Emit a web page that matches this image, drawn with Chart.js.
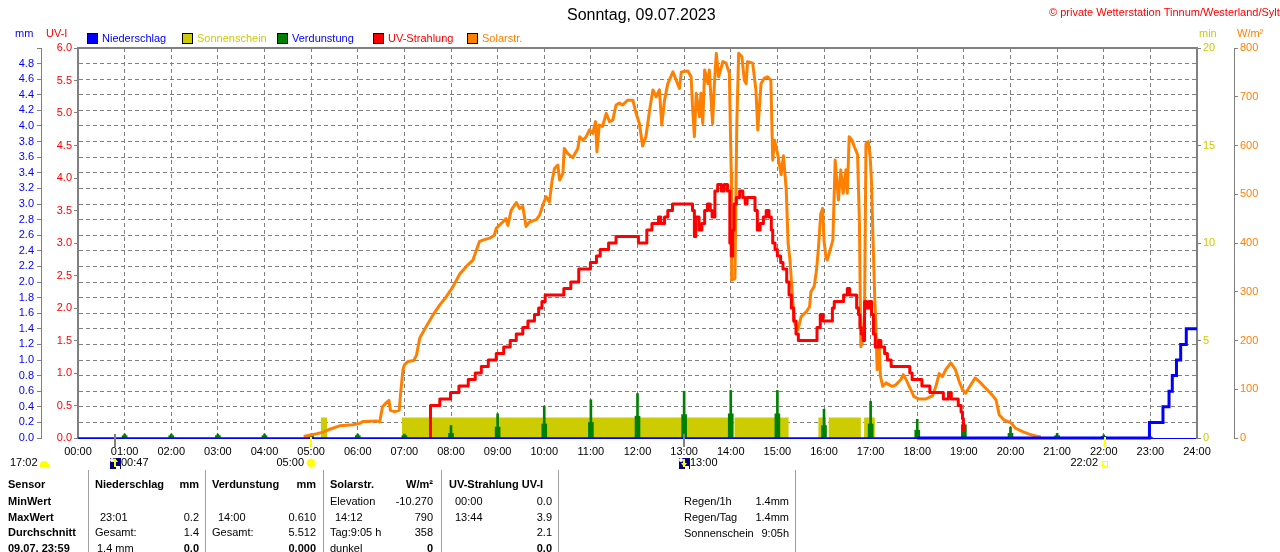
<!DOCTYPE html>
<html>
<head>
<meta charset="utf-8">
<script src="https://cdn.jsdelivr.net/npm/chart.js@4.4.0/dist/chart.umd.min.js"></script>
<style>
  body { margin: 0; background: #fff; width: 1280px; height: 552px; overflow: hidden; position: relative;
         font-family: 'Liberation Sans', Arial, sans-serif; font-size: 11px; }
  canvas { position: absolute; left: 0; top: 0; }
  .t { position: absolute; white-space: nowrap; line-height: 14px; }
  .r { text-align: right; }
  .b { font-weight: bold; }
  .box { position: absolute; width: 9px; height: 9px; border: 1px solid #000; }
  .vl { position: absolute; top: 470px; height: 82px; width: 1px; background: #a0a0a0; }
</style>
</head>
<body>
<canvas id="c" width="1280" height="552"></canvas>

<div class="t" style="left:567px;top:6px;font-size:16px;line-height:18px;">Sonntag, 09.07.2023</div>
<div class="t" style="left:1049px;top:5px;color:#ff0000;">© private Wetterstation Tinnum/Westerland/Sylt</div>
<div class="t" style="left:15px;top:26px;color:#0000ff;">mm</div>
<div class="t" style="left:46px;top:26px;color:#ff0000;">UV-I</div>
<div class="t" style="left:1199px;top:26px;color:#cccc00;">min</div>
<div class="t" style="left:1237px;top:26px;color:#ff8000;">W/m²</div>
<div id="legend"></div>

<div id="table">
  <div class="vl" style="left:88px"></div>
  <div class="vl" style="left:205px"></div>
  <div class="vl" style="left:323px"></div>
  <div class="vl" style="left:441px"></div>
  <div class="vl" style="left:558px"></div>
  <div class="vl" style="left:795px"></div>

  <div class="t b" style="left:8px;top:477px">Sensor</div>
  <div class="t b" style="left:8px;top:494px">MinWert</div>
  <div class="t b" style="left:8px;top:510px">MaxWert</div>
  <div class="t b" style="left:8px;top:525px">Durchschnitt</div>
  <div class="t b" style="left:8px;top:541px">09.07. 23:59</div>

  <div class="t b" style="left:95px;top:477px">Niederschlag</div>
  <div class="t b r" style="right:1081px;top:477px">mm</div>
  <div class="t" style="left:100px;top:510px">23:01</div>
  <div class="t r" style="right:1081px;top:510px">0.2</div>
  <div class="t" style="left:95px;top:525px">Gesamt:</div>
  <div class="t r" style="right:1081px;top:525px">1.4</div>
  <div class="t" style="left:97px;top:541px">1.4 mm</div>
  <div class="t b r" style="right:1081px;top:541px">0.0</div>

  <div class="t b" style="left:212px;top:477px">Verdunstung</div>
  <div class="t b r" style="right:964px;top:477px">mm</div>
  <div class="t" style="left:218px;top:510px">14:00</div>
  <div class="t r" style="right:964px;top:510px">0.610</div>
  <div class="t" style="left:212px;top:525px">Gesamt:</div>
  <div class="t r" style="right:964px;top:525px">5.512</div>
  <div class="t b r" style="right:964px;top:541px">0.000</div>

  <div class="t b" style="left:330px;top:477px">Solarstr.</div>
  <div class="t b r" style="right:847px;top:477px">W/m²</div>
  <div class="t" style="left:330px;top:494px">Elevation</div>
  <div class="t r" style="right:847px;top:494px">-10.270</div>
  <div class="t" style="left:335px;top:510px">14:12</div>
  <div class="t r" style="right:847px;top:510px">790</div>
  <div class="t" style="left:330px;top:525px">Tag:9:05 h</div>
  <div class="t r" style="right:847px;top:525px">358</div>
  <div class="t" style="left:330px;top:541px">dunkel</div>
  <div class="t b r" style="right:847px;top:541px">0</div>

  <div class="t b" style="left:449px;top:477px">UV-Strahlung UV-I</div>
  <div class="t" style="left:455px;top:494px">00:00</div>
  <div class="t r" style="right:728px;top:494px">0.0</div>
  <div class="t" style="left:455px;top:510px">13:44</div>
  <div class="t r" style="right:728px;top:510px">3.9</div>
  <div class="t r" style="right:728px;top:525px">2.1</div>
  <div class="t b r" style="right:728px;top:541px">0.0</div>

  <div class="t" style="left:684px;top:494px">Regen/1h</div>
  <div class="t r" style="right:491px;top:494px">1.4mm</div>
  <div class="t" style="left:684px;top:510px">Regen/Tag</div>
  <div class="t r" style="right:491px;top:510px">1.4mm</div>
  <div class="t" style="left:684px;top:526px">Sonnenschein</div>
  <div class="t r" style="right:491px;top:526px">9:05h</div>
</div>

<script>
const FONT = "'Liberation Sans', Arial, sans-serif";

// Niederschlag (mm, kumuliert)
const rainTimes  = [0, 18, 22.98, 23.27, 23.40, 23.47, 23.56, 23.65, 23.77, 24];
const rainValues = [0, 0, 0.2, 0.4, 0.6, 0.8, 1.0, 1.2, 1.4, 1.4];

// Sonnenschein (min) - Abschnitte mit Sonne
const sunStart = [5.21, 6.95, 14.08, 15.88, 16.10, 16.86];
const sunEnd   = [5.34, 14.04, 15.24, 16.04, 16.79, 17.09];
const sunMinutes = 1.05;

// Verdunstung (mm) - stuendlich
const evapHours = [1,2,3,4,5,6,7,8,9,10,11,12,13,14,15,16,17,18,19,20,21,22,23];
const evapPeak  = [0.05,0.05,0.05,0.05,0.05,0.05,0.05,0.16,0.31,0.41,0.49,0.57,0.60,0.61,0.61,0.37,0.47,0.24,0.19,0.14,0.06,0.04,0.02];
const evapBase  = [0.03,0.03,0.03,0.03,0.03,0.03,0.03,0.06,0.14,0.18,0.20,0.28,0.30,0.31,0.31,0.16,0.18,0.10,0.17,0.06,0.03,0.02,0.01];

// UV-Strahlung (UV-I)
const uvTimes = [7.53,7.56,7.76,7.99,8.17,8.37,8.52,8.65,8.80,8.97,9.13,9.27,9.40,9.54,9.65,9.79,9.88,9.95,10.02,
  10.42,10.57,10.74,10.99,11.12,11.20,11.38,11.54,12.02,12.20,12.31,12.45,12.50,12.58,12.65,12.75,
  13.18,13.22,13.25,13.32,13.38,13.44,13.50,13.56,13.60,13.66,13.72,13.80,13.86,13.93,13.98,14.01,14.04,14.07,14.12,
  14.19,14.26,14.31,14.35,14.52,14.57,14.63,14.70,14.76,14.82,14.87,14.90,14.95,15.00,15.07,15.12,15.20,15.25,15.30,
  15.35,15.40,15.45,15.85,15.92,15.98,16.18,16.22,16.42,16.50,16.55,16.70,16.74,16.77,16.80,16.84,16.87,16.92,16.97,
  17.02,17.06,17.10,17.17,17.22,17.30,17.36,17.44,17.84,17.89,18.10,18.27,18.56,18.67,18.73,18.88,18.94,18.97,18.99];
const uvValues = [0,0.5,0.6,0.7,0.8,0.9,1.0,1.1,1.2,1.3,1.4,1.5,1.6,1.7,1.8,1.9,2.0,2.1,2.2,
  2.3,2.4,2.6,2.7,2.8,2.9,3.0,3.1,3.0,3.2,3.3,3.4,3.3,3.4,3.5,3.6,
  3.5,3.1,3.4,3.2,3.3,3.5,3.6,3.5,3.4,3.8,3.9,3.8,3.9,3.8,3.0,2.8,3.2,3.6,3.7,
  3.8,3.7,3.6,3.7,3.5,3.2,3.3,3.4,3.5,3.4,3.2,3.0,2.9,2.8,2.7,2.6,2.4,2.2,2.0,
  1.8,1.6,1.5,1.7,1.9,1.8,2.0,2.1,2.2,2.3,2.2,2.0,1.9,1.7,1.6,1.5,2.1,2.0,2.1,
  1.9,1.6,1.4,1.5,1.4,1.3,1.2,1.1,1.0,0.9,0.8,0.7,0.6,0.7,0.6,0.5,0.4,0.3,0.1];

// Solarstrahlung (W/m2)
const solarTimes = [4.84,5.04,5.26,5.40,5.61,5.90,6.04,6.11,6.40,6.47,6.53,6.61,6.67,6.70,6.79,6.89,6.92,6.97,7.00,7.08,
  7.20,7.26,7.33,7.47,7.61,7.76,7.90,8.04,8.19,8.33,8.47,8.61,8.68,8.83,8.93,8.97,9.11,9.18,9.22,9.29,9.40,9.47,9.54,
  9.61,9.68,9.83,9.90,9.97,10.04,10.11,10.17,10.22,10.29,10.33,10.40,10.43,10.50,10.61,10.72,10.76,10.83,10.90,10.97,
  11.04,11.10,11.13,11.18,11.25,11.33,11.40,11.47,11.54,11.61,11.68,11.79,11.90,11.97,12.04,12.11,12.18,12.26,12.33,
  12.40,12.47,12.52,12.58,12.65,12.76,12.83,12.90,12.94,13.08,13.15,13.18,13.22,13.26,13.33,13.36,13.40,13.44,13.51,
  13.54,13.61,13.65,13.69,13.74,13.83,13.90,13.97,14.01,14.02,14.09,14.13,14.17,14.24,14.29,14.33,14.36,14.47,14.54,
  14.58,14.65,14.72,14.79,14.86,14.90,14.94,15.01,15.08,15.13,15.19,15.23,15.27,15.33,15.37,15.44,15.51,15.62,15.69,
  15.72,15.79,15.84,15.88,15.93,15.97,16.00,16.04,16.07,16.15,16.19,16.24,16.26,16.31,16.36,16.41,16.47,16.50,16.54,
  16.60,16.65,16.72,16.76,16.79,16.83,16.87,16.90,16.95,16.99,17.02,17.05,17.09,17.11,17.14,17.18,17.21,17.26,17.33,
  17.40,17.47,17.54,17.65,17.70,17.76,17.86,17.93,18.04,18.18,18.33,18.40,18.47,18.54,18.61,18.72,18.82,18.90,18.97,
  19.04,19.13,19.24,19.33,19.47,19.61,19.69,19.76,19.86,20.01,20.11,20.26,20.40,20.54,20.65];
const solarValues = [3,7,12,18,25,27,30,34,35,33,64,72,77,57,54,57,92,140,150,157,
  159,170,205,229,252,273,290,310,337,352,365,403,406,410,416,430,443,450,436,467,483,471,475,
  434,443,448,457,478,495,484,529,553,560,529,543,594,584,575,594,618,611,618,632,
  625,649,587,642,639,666,649,652,683,687,683,693,693,666,645,599,618,673,714,
  700,714,642,693,727,751,734,717,751,753,741,680,618,707,659,707,645,755,727,
  755,645,727,789,741,772,769,748,543,324,327,645,789,782,734,727,772,769,714,
  632,727,738,741,734,570,611,580,540,579,509,400,365,280,236,222,249,259,269,
  300,311,345,389,460,471,406,372,365,392,406,570,543,488,550,502,550,502,618,
  611,598,581,440,187,201,256,604,608,577,522,413,283,236,140,201,127,106,113,
  109,106,109,120,130,120,99,85,80,80,87,106,132,126,140,154,140,116,99,
  92,106,123,116,102,88,78,47,37,31,20,13,8,4,2];

// Mond-/Sonnen-Ereignisse unter der Zeitachse
const eventTimes  = [0.783, 5.0, 13.0, 22.033];
const eventLabels = ['00:47', '05:00', '13:00', '22:02'];
const eventKinds  = ['moonrise', 'sunrise', 'moon', 'sunset'];
const prevMoonset = '17:02';

function pts(xs, ys) { return xs.map((x, i) => ({x: x, y: ys[i]})); }

function sunPoints() {
  const out = [{x: 0, y: 0}];
  sunStart.forEach((s, i) => { out.push({x: s, y: sunMinutes}); out.push({x: sunEnd[i], y: 0}); });
  out.push({x: 24, y: 0});
  return out;
}

// legend
const legendItems = [
  ['Niederschlag', '#0000ff', '#0000ff', 87],
  ['Sonnenschein', '#cccc00', '#cccc00', 182],
  ['Verdunstung',  '#008000', '#0000ff', 277],
  ['UV-Strahlung', '#ff0000', '#ff0000', 373],
  ['Solarstr.',    '#ff8000', '#ff8000', 467]
];
let lg = '';
legendItems.forEach(it => {
  lg += '<div class="box" style="left:' + it[3] + 'px;top:33px;background:' + it[1] + '"></div>';
  lg += '<div class="t" style="left:' + (it[3] + 15) + 'px;top:31px;color:' + it[2] + '">' + it[0] + '</div>';
});
document.getElementById('legend').innerHTML = lg;

const frame = {
  id: 'frame',
  afterDatasetsDraw(chart) {
    const a = chart.chartArea, ctx = chart.ctx;
    ctx.save();
    ctx.strokeStyle = '#808080';
    ctx.lineWidth = 2;
    ctx.beginPath(); ctx.moveTo(a.left - 1, a.top); ctx.lineTo(a.right + 1, a.top); ctx.stroke();
    ctx.restore();
  },
  afterDraw(chart) {
    const ctx = chart.ctx, xs = chart.scales.x, a = chart.chartArea;
    const ty = 463;
    ctx.save();
    ctx.font = '11px ' + FONT;
    ctx.textBaseline = 'middle';
    ctx.fillStyle = '#000';
    // previous day moonset at left edge
    ctx.textAlign = 'left';
    ctx.fillText(prevMoonset, 10, ty);
    ctx.fillStyle = '#ffff00';
    ctx.beginPath(); ctx.arc(44, ty + 2, 4, Math.PI, 0); ctx.fill();
    ctx.fillRect(40, ty + 1, 9, 3);

    eventTimes.forEach((t, i) => {
      const px = Math.round(xs.getPixelForValue(t));
      const kind = eventKinds[i];
      const moon = kind === 'moonrise' || kind === 'moon';
      ctx.fillStyle = moon ? '#808080' : '#ffff00';
      ctx.fillRect(px - 1, a.bottom - (moon ? 4 : 1), 2, moon ? 13 : 10);
      ctx.fillStyle = '#000';
      if (moon) {
        ctx.fillStyle = '#000080';
        ctx.fillRect(px - 5, ty - 5, 11, 11);
        ctx.fillStyle = '#ffffff';
        ctx.beginPath(); ctx.arc(px - 3, ty - 3, 2, 0, Math.PI * 2); ctx.fill();
        ctx.fillRect(px + 1, ty + 3, 4, 3);
        ctx.fillStyle = '#ffff00';
        ctx.fillRect(px - 1, ty - 4, 2, 8);
        ctx.beginPath();
        if (kind === 'moonrise') { ctx.moveTo(px - 3, ty - 1); ctx.lineTo(px, ty - 5); ctx.lineTo(px + 3, ty - 1); }
        else { ctx.moveTo(px - 3, ty); ctx.lineTo(px, ty + 4); ctx.lineTo(px + 3, ty); }
        ctx.fill();
        ctx.fillStyle = '#000';
        ctx.textAlign = 'left';
        ctx.fillText(eventLabels[i], px + 6, ty);
      } else if (kind === 'sunrise') {
        ctx.strokeStyle = '#ffff80';
        ctx.lineWidth = 1;
        for (let k = 0; k < 8; k++) {
          const an = k * Math.PI / 4;
          ctx.beginPath();
          ctx.moveTo(px + Math.cos(an) * 4, ty + Math.sin(an) * 4);
          ctx.lineTo(px + Math.cos(an) * 6, ty + Math.sin(an) * 6);
          ctx.stroke();
        }
        ctx.fillStyle = '#ffff00';
        ctx.beginPath(); ctx.arc(px, ty, 4, 0, Math.PI * 2); ctx.fill();
        ctx.fillStyle = '#000';
        ctx.textAlign = 'right';
        ctx.fillText(eventLabels[i], px - 7, ty);
      } else {
        ctx.strokeStyle = '#ffff00';
        ctx.lineWidth = 1;
        ctx.strokeRect(px - 2.5, ty - 1.5, 5, 5);
        ctx.fillStyle = '#000';
        ctx.textAlign = 'right';
        ctx.fillText(eventLabels[i], px - 7, ty);
      }
    });
    ctx.restore();
  }
};

Chart.defaults.font.family = FONT;
Chart.defaults.font.size = 11;

new Chart(document.getElementById('c'), {
  type: 'line',
  data: {
    datasets: [
      {
        label: 'Niederschlag', data: pts(rainTimes, rainValues), yAxisID: 'yMM',
        borderColor: '#0000ff', borderWidth: 3, stepped: 'before', pointRadius: 0, order: 1,
        clip: 4,
        segment: { borderWidth: c => c.p0.parsed.x < 17.99 ? 1.5 : 3 }
      },
      {
        label: 'UV-Strahlung', data: pts(uvTimes, uvValues), yAxisID: 'yUV',
        borderColor: '#ff0000', borderWidth: 3, stepped: 'before', pointRadius: 0, order: 2,
        borderJoinStyle: 'round'
      },
      {
        label: 'Solarstr.', data: pts(solarTimes, solarValues), yAxisID: 'yW',
        borderColor: '#ff8000', borderWidth: 3, pointRadius: 0, order: 3,
        borderJoinStyle: 'round', tension: 0
      },
      {
        type: 'bar', label: 'Verdunstung', data: pts(evapHours, evapPeak), yAxisID: 'yMM',
        backgroundColor: '#008000', barThickness: 2, grouped: false, order: 4
      },
      {
        type: 'bar', label: 'Verdunstung2', data: pts(evapHours, evapBase), yAxisID: 'yMM',
        backgroundColor: '#008000', barThickness: 5, grouped: false, order: 4
      },
      {
        label: 'Sonnenschein', data: sunPoints(), yAxisID: 'yMin',
        borderWidth: 0, borderColor: 'rgba(0,0,0,0)', backgroundColor: '#cccc00',
        fill: 'origin', stepped: 'before', pointRadius: 0, order: 5
      }
    ]
  },
  options: {
    responsive: false,
    animation: false,
    devicePixelRatio: 1,
    layout: { padding: { top: 48, bottom: 94, left: 0, right: 0 } },
    plugins: { legend: { display: false }, tooltip: { enabled: false }, title: { display: false } },
    scales: {
      x: {
        type: 'linear', min: 0, max: 24, offset: false,
        ticks: { stepSize: 1, autoSkip: false, maxRotation: 0, color: '#000', padding: 7,
                 callback: v => (v < 10 ? '0' : '') + v + ':00' },
        grid: { color: '#808080', drawTicks: false, lineWidth: 1, offset: false },
        border: { display: true, color: '#0000ff', width: 1, dash: [4, 3] },
        afterFit: s => { s.height = 20; }
      },
      yMM: {
        type: 'linear', position: 'left', weight: 1, min: 0, max: 5,
        ticks: { stepSize: 0.2, autoSkip: false, color: '#0000ff', padding: 3,
                 callback: v => v > 4.95 ? '' : v.toFixed(1) },
        grid: { color: '#808080', tickColor: '#808080', tickLength: 4, tickBorderDash: [], drawOnChartArea: true },
        border: { color: '#808080', width: 1, dash: [4, 3] },
        afterFit: s => { s.width = 41; }
      },
      yUV: {
        type: 'linear', position: 'left', weight: 0, min: 0, max: 6,
        ticks: { stepSize: 0.5, autoSkip: false, color: '#ff0000', padding: 2, callback: v => v.toFixed(1) },
        grid: { drawOnChartArea: false, tickColor: '#808080', tickLength: 4 },
        border: { color: '#808080', width: 2 },
        afterFit: s => { s.width = 37; }
      },
      yMin: {
        type: 'linear', position: 'right', weight: 0, min: 0, max: 20,
        ticks: { stepSize: 5, color: '#cccc00', padding: 2 },
        grid: { drawOnChartArea: false, tickColor: '#808080', tickLength: 4 },
        border: { color: '#808080', width: 2 },
        afterFit: s => { s.width = 37; }
      },
      yW: {
        type: 'linear', position: 'right', weight: 1, min: 0, max: 800,
        ticks: { stepSize: 100, color: '#ff8000', padding: 2 },
        grid: { drawOnChartArea: false, tickColor: '#808080', tickLength: 4 },
        border: { color: '#808080', width: 1 },
        afterFit: s => { s.width = 46; }
      }
    }
  },
  plugins: [frame]
});
</script>
</body>
</html>
